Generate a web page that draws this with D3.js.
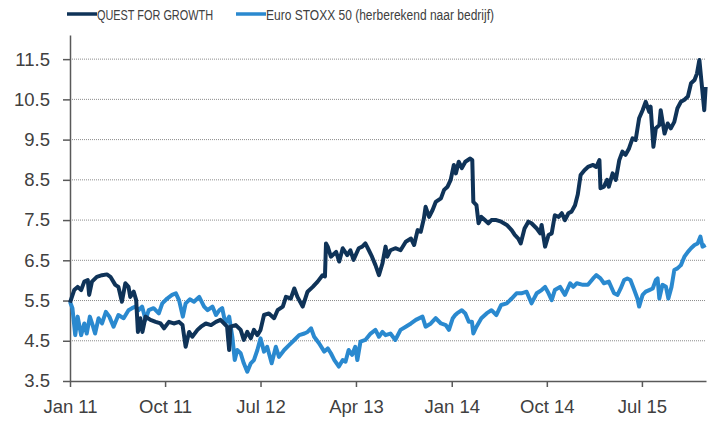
<!DOCTYPE html>
<html>
<head>
<meta charset="utf-8">
<script src="https://cdn.jsdelivr.net/npm/d3@7"></script>
<style>
  body { margin: 0; background: #fff; }
  svg text { font-family: "Liberation Sans", Arial, sans-serif; fill: #404040; }
</style>
</head>
<body>
<svg id="chart" width="712" height="421"></svg>
<script>
// series names + colours
const seriesNames = ["QUEST FOR GROWTH", "Euro STOXX 50 (herberekend naar bedrijf)"];
const seriesColors = ["#0f3358", "#2a89cf"];

// axis ticks
const yTicks = [3.5, 4.5, 5.5, 6.5, 7.5, 8.5, 9.5, 10.5, 11.5];
const xTickDates = ["2011-01-01", "2011-10-01", "2012-07-01", "2013-04-01", "2014-01-01", "2014-10-01", "2015-07-01"];

// QUEST FOR GROWTH
const qfgDates = [
  "2011-01-01","2011-01-13","2011-01-23","2011-02-02","2011-02-11","2011-02-21","2011-02-25","2011-03-05","2011-03-19","2011-04-03",
  "2011-04-17","2011-04-27","2011-05-11","2011-05-20","2011-05-30","2011-06-09","2011-06-18","2011-06-23","2011-07-03","2011-07-10",
  "2011-07-15","2011-07-22","2011-07-28","2011-08-06","2011-08-20","2011-09-04","2011-09-18","2011-09-28","2011-10-12","2011-10-26",
  "2011-11-10","2011-11-20","2011-11-29","2011-12-09","2011-12-18","2012-01-02","2012-01-12","2012-01-26","2012-02-10","2012-02-24",
  "2012-03-08","2012-03-18","2012-03-27","2012-04-02","2012-04-06","2012-04-21","2012-05-05","2012-05-14","2012-05-24","2012-06-03",
  "2012-06-12","2012-06-22","2012-07-01","2012-07-11","2012-07-25","2012-08-09","2012-08-19","2012-09-03","2012-09-12","2012-09-26",
  "2012-10-06","2012-10-15","2012-10-30","2012-11-13","2012-11-28","2012-12-12","2012-12-26","2013-01-02","2013-01-05","2013-01-10",
  "2013-01-19","2013-02-03","2013-02-12","2013-02-22","2013-03-07","2013-03-16","2013-03-25","2013-04-09","2013-04-19","2013-04-28",
  "2013-05-08","2013-05-17","2013-05-27","2013-06-06","2013-06-16","2013-06-25","2013-06-30","2013-07-09","2013-07-23","2013-08-07",
  "2013-08-22","2013-09-06","2013-09-15","2013-09-25","2013-10-04","2013-10-13","2013-10-18","2013-10-28","2013-11-07","2013-11-16",
  "2013-12-01","2013-12-10","2013-12-20","2013-12-29","2014-01-07","2014-01-13","2014-01-21","2014-01-30","2014-02-09","2014-02-23",
  "2014-03-01","2014-03-04","2014-03-13","2014-03-19","2014-03-27","2014-04-06","2014-04-16","2014-04-25","2014-05-09","2014-05-23",
  "2014-06-08","2014-06-22","2014-07-01","2014-07-11","2014-07-18","2014-07-29","2014-08-09","2014-08-18","2014-09-02","2014-09-12",
  "2014-09-16","2014-09-26","2014-10-06","2014-10-15","2014-10-24","2014-11-04","2014-11-13","2014-11-22","2014-12-02","2014-12-11",
  "2014-12-21","2014-12-29","2015-01-06","2015-01-17","2015-01-27","2015-02-11","2015-02-20","2015-03-01","2015-03-04","2015-03-14",
  "2015-03-23","2015-03-28","2015-04-08","2015-04-17","2015-04-27","2015-05-06","2015-05-15","2015-05-25","2015-06-04","2015-06-13",
  "2015-06-23","2015-07-03","2015-07-12","2015-07-22","2015-07-26","2015-08-03","2015-08-10","2015-08-20","2015-08-24","2015-09-04",
  "2015-09-13","2015-09-22","2015-10-02","2015-10-11","2015-10-21","2015-10-31","2015-11-10","2015-11-19","2015-11-29","2015-12-06",
  "2015-12-13","2015-12-19","2015-12-27","2015-12-31"
];
const qfgValues = [
  5.45,5.76,5.84,5.76,5.97,6.01,5.64,5.97,6.09,6.13,
  6.15,6.09,5.89,5.84,5.47,5.93,5.84,5.59,5.72,5.51,
  4.72,5.06,4.72,5.10,5.02,4.97,4.93,4.81,4.97,4.93,
  4.97,4.89,4.35,4.72,4.60,4.77,4.85,4.93,4.89,4.97,
  5.02,4.93,4.85,4.27,4.85,4.89,4.77,4.52,4.72,4.56,
  4.77,4.64,4.77,5.14,5.18,5.06,5.26,5.35,5.59,5.55,
  5.80,5.59,5.35,5.72,5.84,5.97,6.13,6.10,6.92,6.84,
  6.59,6.71,6.47,6.80,6.63,6.75,6.51,6.80,6.84,6.92,
  6.75,6.59,6.38,6.13,6.42,6.84,6.59,6.75,6.80,6.75,
  6.96,7.04,6.88,7.25,7.21,7.54,7.83,7.58,7.75,7.95,
  8.04,8.25,8.33,8.50,8.87,8.66,8.95,8.79,8.95,9.03,
  8.99,7.95,7.87,7.42,7.58,7.50,7.42,7.50,7.50,7.46,
  7.38,7.25,7.13,7.04,6.92,7.29,7.46,7.42,7.29,7.17,
  7.38,6.84,7.13,7.17,7.62,7.58,7.67,7.50,7.67,7.71,
  7.87,8.14,8.62,8.74,8.82,8.87,8.82,8.99,8.29,8.33,
  8.50,8.33,8.66,8.50,8.99,9.20,9.12,9.28,9.53,9.49,
  10.03,10.23,10.44,10.19,10.32,9.32,9.78,9.86,10.23,9.65,
  9.90,9.78,9.94,10.28,10.44,10.49,10.57,10.90,10.98,11.14,
  11.48,10.94,10.23,10.81
];

// Euro STOXX 50 (herberekend)
const stoxxDates = [
  "2011-01-01","2011-01-08","2011-01-16","2011-01-23","2011-02-02","2011-02-11","2011-02-18","2011-02-27","2011-03-07","2011-03-14",
  "2011-03-24","2011-04-03","2011-04-14","2011-04-24","2011-05-06","2011-05-20","2011-06-04","2011-06-18","2011-06-28","2011-07-08",
  "2011-07-17","2011-07-27","2011-08-06","2011-08-15","2011-08-29","2011-09-13","2011-09-23","2011-10-07","2011-10-21","2011-11-01",
  "2011-11-10","2011-11-21","2011-11-29","2011-12-11","2011-12-23","2012-01-02","2012-01-07","2012-01-21","2012-01-31","2012-02-14",
  "2012-02-24","2012-03-05","2012-03-13","2012-03-22","2012-04-02","2012-04-11","2012-04-18","2012-04-25","2012-05-05","2012-05-14",
  "2012-05-24","2012-06-03","2012-06-12","2012-06-22","2012-07-01","2012-07-11","2012-07-20","2012-08-02","2012-08-14","2012-08-23",
  "2012-09-07","2012-09-21","2012-10-06","2012-10-20","2012-11-04","2012-11-13","2012-11-23","2012-12-02","2012-12-16","2012-12-31",
  "2013-01-10","2013-01-19","2013-01-29","2013-02-11","2013-02-22","2013-03-02","2013-03-11","2013-03-21","2013-03-30","2013-04-05",
  "2013-04-14","2013-04-28","2013-05-13","2013-05-27","2013-06-06","2013-06-16","2013-06-25","2013-07-09","2013-07-23","2013-08-07",
  "2013-08-22","2013-09-06","2013-09-20","2013-10-09","2013-10-18","2013-11-02","2013-11-16","2013-12-01","2013-12-15","2013-12-24",
  "2014-01-04","2014-01-11","2014-01-16","2014-01-30","2014-02-09","2014-02-19","2014-02-28","2014-03-04","2014-03-13","2014-03-27",
  "2014-04-11","2014-04-25","2014-05-09","2014-05-23","2014-06-08","2014-06-22","2014-07-06","2014-07-20","2014-08-04","2014-08-18",
  "2014-09-02","2014-09-16","2014-09-26","2014-10-06","2014-10-15","2014-10-24","2014-11-08","2014-11-22","2014-12-07","2014-12-16",
  "2014-12-26","2015-01-13","2015-01-27","2015-02-11","2015-02-20","2015-03-04","2015-03-14","2015-03-28","2015-04-12","2015-04-22",
  "2015-05-01","2015-05-11","2015-05-20","2015-05-29","2015-06-09","2015-06-18","2015-06-23","2015-07-03","2015-07-12","2015-07-22",
  "2015-08-01","2015-08-10","2015-08-15","2015-08-20","2015-08-29","2015-09-08","2015-09-15","2015-09-24","2015-10-02","2015-10-11",
  "2015-10-21","2015-10-31","2015-11-10","2015-11-19","2015-11-29","2015-12-08","2015-12-16","2015-12-22","2015-12-31"
];
const stoxxValues = [
  5.47,5.31,4.64,5.10,4.64,4.93,4.68,5.10,4.89,4.68,
  5.06,4.93,5.22,5.10,4.85,5.14,5.06,5.26,5.31,5.35,
  5.26,5.35,5.02,5.26,5.31,5.18,5.43,5.55,5.64,5.68,
  5.51,5.10,5.43,5.53,5.47,5.55,5.59,5.35,5.26,5.35,
  5.14,5.26,5.31,4.93,5.10,4.60,4.02,4.27,4.19,3.94,
  3.73,3.94,4.02,4.27,4.56,4.23,4.35,3.94,4.35,4.10,
  4.27,4.39,4.52,4.64,4.68,4.72,4.81,4.60,4.44,4.23,
  4.31,4.19,4.02,3.86,4.02,3.98,4.27,4.15,4.35,4.02,
  4.48,4.52,4.68,4.77,4.60,4.72,4.64,4.68,4.52,4.77,
  4.85,4.93,5.02,5.10,4.85,4.93,5.06,4.93,4.89,4.77,
  5.06,5.14,5.18,5.26,5.18,4.97,4.97,4.68,4.85,5.06,
  5.18,5.26,5.14,5.39,5.43,5.55,5.68,5.68,5.72,5.43,
  5.68,5.76,5.84,5.68,5.51,5.76,5.84,5.64,5.93,5.84,
  5.93,5.89,5.89,6.05,6.13,6.05,5.93,5.97,5.68,5.64,
  5.80,6.01,6.05,6.01,5.76,5.55,5.35,5.64,5.72,5.76,
  5.80,6.01,6.05,5.55,5.89,5.84,5.55,5.84,6.26,6.30,
  6.38,6.59,6.71,6.80,6.88,6.92,7.09,6.84,6.88
];

const parse = d3.timeParse("%Y-%m-%d");
const qfg = qfgDates.map((d, i) => ({ date: parse(d), value: qfgValues[i] }));
const stoxx = stoxxDates.map((d, i) => ({ date: parse(d), value: stoxxValues[i] }));

const svg = d3.select("#chart");

const xScale = d3.scaleTime()
  .domain([parse("2011-01-01"), parse("2016-01-01")])
  .range([70, 706]);
const yScale = d3.scaleLinear().domain([3.5, 12.1]).range([381, 35]);

// dotted gridlines
svg.append("g")
  .selectAll("line")
  .data(yTicks.filter(v => v > 3.5))
  .join("line")
  .attr("x1", 70)
  .attr("x2", 706)
  .attr("y1", d => yScale(d))
  .attr("y2", d => yScale(d))
  .attr("stroke", "#8c8c8c")
  .attr("stroke-width", 1)
  .attr("stroke-dasharray", "1,1");

const yAxis = d3.axisLeft(yScale)
  .tickValues(yTicks)
  .tickFormat(d3.format(".1f"))
  .tickSize(7)
  .tickSizeOuter(0)
  .tickPadding(13);

const xAxis = d3.axisBottom(xScale)
  .tickValues(xTickDates.map(parse))
  .tickFormat(d3.timeFormat("%b %y"))
  .tickSize(6)
  .tickSizeOuter(0)
  .tickPadding(13);

const gy = svg.append("g").attr("transform", "translate(70,0)").call(yAxis);
const gx = svg.append("g").attr("transform", "translate(0,381)").call(xAxis);

[gy, gx].forEach(g => {
  g.select(".domain").attr("stroke", "#595959").attr("stroke-width", 1.5);
  g.selectAll(".tick line").attr("stroke", "#595959").attr("stroke-width", 1.5);
  g.selectAll(".tick text")
    .attr("fill", "#404040")
    .style("font-size", "18.5px")
    .style("font-family", "'Liberation Sans', Arial, sans-serif");
});

const line = d3.line()
  .x(d => xScale(d.date))
  .y(d => yScale(d.value));

svg.append("path")
  .attr("d", line(stoxx))
  .attr("fill", "none")
  .attr("stroke", seriesColors[1])
  .attr("stroke-width", 4)
  .attr("stroke-linejoin", "round");

svg.append("path")
  .attr("d", line(qfg))
  .attr("fill", "none")
  .attr("stroke", seriesColors[0])
  .attr("stroke-width", 4)
  .attr("stroke-linejoin", "round");

// legend
const legendX = [67, 236];
const legendW = [116, 228];
const lg = svg.append("g");
seriesNames.forEach((name, i) => {
  lg.append("line")
    .attr("x1", legendX[i]).attr("x2", legendX[i] + 30)
    .attr("y1", 14).attr("y2", 14)
    .attr("stroke", seriesColors[i])
    .attr("stroke-width", 3.5);
  lg.append("text")
    .attr("x", legendX[i] + 30)
    .attr("y", 20)
    .attr("textLength", legendW[i])
    .attr("lengthAdjust", "spacingAndGlyphs")
    .style("font-size", "15.5px")
    .text(name);
});
</script>
</body>
</html>
